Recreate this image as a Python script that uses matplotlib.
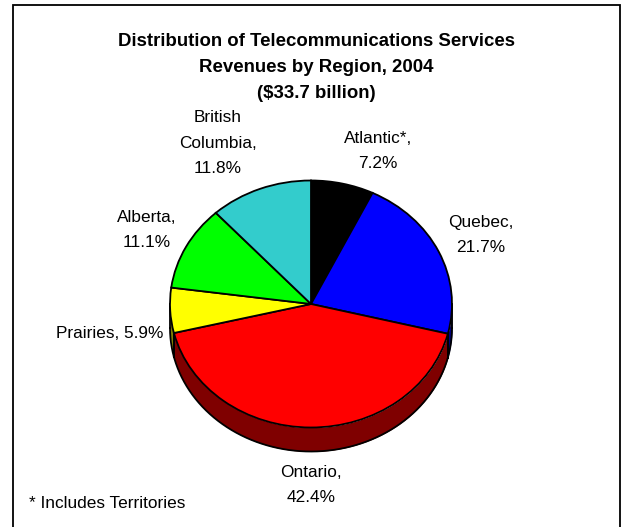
import numpy as np
import matplotlib
matplotlib.use("Agg")
import matplotlib.pyplot as plt

regions = ["Atlantic*", "Quebec", "Ontario", "Prairies", "Alberta", "British Columbia"]
shares = [7.2, 21.7, 42.4, 5.9, 11.1, 11.8]
top_colors = ["#000000", "#0000FF", "#FF0000", "#FFFF00", "#00FF00", "#33CCCC"]
wall_colors = ["#000000", "#00007F", "#7F0000", "#7F7F00", "#007F00", "#196666"]
label_lines = ["Atlantic*,\n7.2%", "Quebec,\n21.7%", "Ontario,\n42.4%",
               "Prairies, 5.9%", "Alberta,\n11.1%", "British\nColumbia,\n11.8%"]
label_pos = [(378, 151), (481, 235), (311, 485), (110, 334), (147, 230), (218, 143)]
title_lines = ["Distribution of Telecommunications Services",
               "Revenues by Region, 2004", "($33.7 billion)"]
title_y = [41, 67, 94]

W, H = 626, 527
CX, CY, RX, RY, DEPTH = 311.0, 304.0, 141.0, 123.5, 24.0

plt.rcParams["font.family"] = ["Liberation Sans", "DejaVu Sans"]
fig = plt.figure(figsize=(W / 100, H / 100), dpi=100, facecolor="white")

# Full-figure axes in pixel coordinates for the frame and the text
page = fig.add_axes([0, 0, 1, 1], zorder=3)
page.set_xlim(0, W)
page.set_ylim(H, 0)
page.axis("off")
page.patch.set_alpha(0)
page.plot([12.5, 12.5, 620, 620], [H, 4.5, 4.5, H], color="black", lw=1.3,
          solid_joinstyle="miter")

# Pie axes: one data unit is one radius, squashed to give the tilted look
ax = fig.add_axes([(CX - RX) / W, 1 - (CY + RY) / H, 2 * RX / W, 2 * RY / H], zorder=2)
ax.patch.set_alpha(0)

fractions = np.array(shares) / sum(shares)
edges = np.concatenate([[0], np.cumsum(fractions)]) * 2 * np.pi  # clockwise from 12 o'clock
depth_units = DEPTH / RY

# Side wall, visible along the lower half of the rim
for start, stop, wall in zip(edges[:-1], edges[1:], wall_colors):
    lo, hi = max(start, np.pi / 2), min(stop, 3 * np.pi / 2)
    if lo >= hi:
        continue
    theta = np.linspace(lo, hi, 200)
    x, y = np.sin(theta), np.cos(theta)
    ax.fill_between(x, y, y - depth_units, color=wall, lw=0, zorder=1, clip_on=False)
    ax.plot(x, y - depth_units, color="black", lw=1.3, zorder=2, clip_on=False)
    for t in (lo, hi):
        ax.plot([np.sin(t)] * 2, [np.cos(t), np.cos(t) - depth_units],
                color="black", lw=1.3, zorder=2, clip_on=False)

wedges, _ = ax.pie(shares, colors=top_colors, startangle=90, counterclock=False,
                   radius=1, wedgeprops=dict(edgecolor="black", linewidth=1.3))
for w in wedges:
    w.set_zorder(3)
    w.set_clip_on(False)
ax.set_aspect("auto")
ax.set_xlim(-1, 1)
ax.set_ylim(-1, 1)
ax.axis("off")

for line, y in zip(title_lines, title_y):
    page.text(316, y, line, ha="center", va="center", fontsize=13.4,
              fontweight="bold", color="black")

for text, (x, y) in zip(label_lines, label_pos):
    page.text(x, y, text, ha="center", va="center", fontsize=12.4,
              color="black", linespacing=1.9)

page.text(29, 504, "* Includes Territories", ha="left", va="center", fontsize=12.4, color="black")

fig.savefig("out.png", dpi=100, facecolor="white")
